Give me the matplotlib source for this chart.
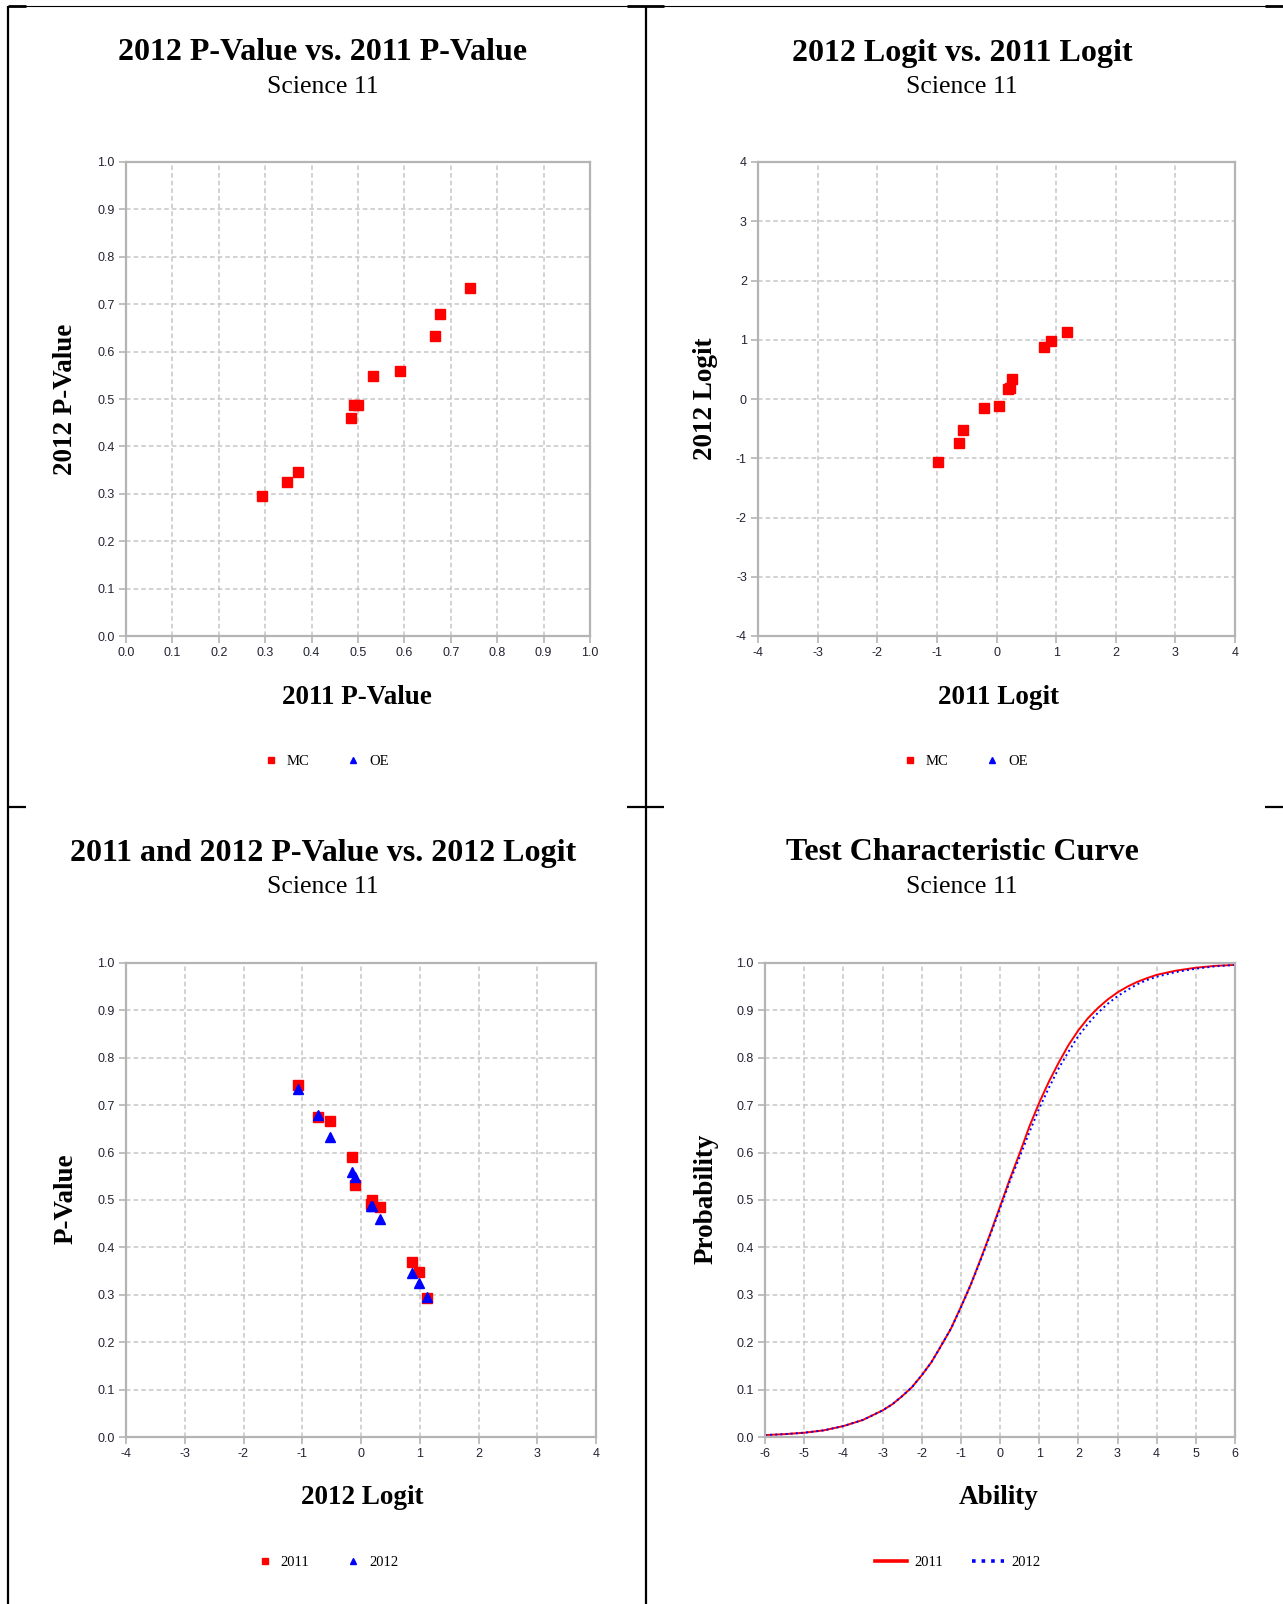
import matplotlib
matplotlib.use('Agg')
import matplotlib.pyplot as plt
from matplotlib.lines import Line2D

W, H = 1283, 1604

# item statistics (11 items, all MC)
p_2011 = [0.293, 0.348, 0.370, 0.485, 0.492, 0.500, 0.532, 0.590, 0.667, 0.676, 0.742]
p_2012 = [0.296, 0.324, 0.347, 0.459, 0.488, 0.488, 0.548, 0.560, 0.633, 0.680, 0.735]
logit_2011 = [1.19, 0.91, 0.80, 0.26, 0.19, 0.22, 0.05, -0.21, -0.57, -0.63, -0.98]
logit_2012 = [1.13, 0.98, 0.87, 0.33, 0.17, 0.18, -0.11, -0.16, -0.53, -0.74, -1.07]
oe_x = []
oe_y = []

# test characteristic curve
ability = [-6, -5.5, -5, -4.5, -4, -3.5, -3, -2.75, -2.5, -2.25, -2, -1.75, -1.5,
           -1.25, -1, -0.75, -0.5, -0.25, 0, 0.25, 0.5, 0.75, 1, 1.25, 1.5, 1.75,
           2, 2.25, 2.5, 2.75, 3, 3.25, 3.5, 3.75, 4, 4.5, 5, 5.5, 6]
tcc_2011 = [0.004, 0.006, 0.009, 0.014, 0.023, 0.036, 0.056, 0.069, 0.086, 0.105,
            0.130, 0.158, 0.193, 0.229, 0.274, 0.321, 0.374, 0.429, 0.486, 0.544,
            0.598, 0.655, 0.705, 0.750, 0.790, 0.827, 0.858, 0.884, 0.905, 0.923,
            0.938, 0.950, 0.960, 0.968, 0.975, 0.984, 0.990, 0.994, 0.996]
tcc_2012 = [0.004, 0.006, 0.009, 0.014, 0.023, 0.036, 0.056, 0.069, 0.086, 0.105,
            0.130, 0.158, 0.193, 0.229, 0.273, 0.320, 0.372, 0.426, 0.482, 0.539,
            0.590, 0.643, 0.693, 0.737, 0.778, 0.813, 0.846, 0.872, 0.895, 0.914,
            0.930, 0.943, 0.955, 0.964, 0.971, 0.981, 0.988, 0.993, 0.996]

p_ticks = [0.0, 0.1, 0.2, 0.3, 0.4, 0.5, 0.6, 0.7, 0.8, 0.9, 1.0]
p_labels = ['0.0', '0.1', '0.2', '0.3', '0.4', '0.5', '0.6', '0.7', '0.8', '0.9', '1.0']
logit_ticks = [-4, -3, -2, -1, 0, 1, 2, 3, 4]
ability_ticks = [-6, -5, -4, -3, -2, -1, 0, 1, 2, 3, 4, 5, 6]

RED = '#ff0000'
BLUE = '#0000ff'

plt.rcParams['font.family'] = ['Liberation Serif', 'DejaVu Serif']

fig = plt.figure(figsize=(W / 100, H / 100), dpi=100)


def fx(x):
    return x / W


def fy(y):
    return 1 - y / H


def make_axes(l, t, r, b, xticks, yticks, xlabels=None, ylabels=None):
    ax = fig.add_axes([fx(l), fy(b), (r - l) / W, (b - t) / H])
    for s in ax.spines.values():
        s.set_color('#b4b4b4')
        s.set_linewidth(1.6)
    ax.grid(True, color='#c6c6c6', linestyle=(0, (3, 2)), linewidth=1.1)
    ax.set_axisbelow(True)
    ax.tick_params(direction='out', length=5, width=1.2, color='#b4b4b4', pad=3)
    ax.set_xlim(xticks[0], xticks[-1])
    ax.set_ylim(yticks[0], yticks[-1])
    ax.set_xticks(xticks)
    ax.set_yticks(yticks)
    if xlabels is None:
        xlabels = [str(v) for v in xticks]
    if ylabels is None:
        ylabels = [str(v) for v in yticks]
    ax.set_xticklabels(xlabels, fontfamily='Liberation Sans', fontsize=9, color='#222233')
    ax.set_yticklabels(ylabels, fontfamily='Liberation Sans', fontsize=9, color='#222233')
    return ax


def panel_text(cx, title, sub, ty, xl, xlx, xly, yl, ylx, yly):
    fig.text(fx(cx), fy(ty), title, ha='center', va='center', fontsize=23, fontweight='bold')
    fig.text(fx(cx), fy(ty + 34), sub, ha='center', va='center', fontsize=18.5)
    fig.text(fx(xlx), fy(xly), xl, ha='center', va='center', fontsize=19.5, fontweight='bold')
    fig.text(fx(ylx), fy(yly), yl, ha='center', va='center', fontsize=19.5, fontweight='bold',
             rotation=90)


def put_legend(ax, handles, labels, cx, cy, hl=1.0):
    ax.legend(handles, labels, loc='center', bbox_to_anchor=(fx(cx), fy(cy)),
              bbox_transform=fig.transFigure, ncol=2, frameon=False, fontsize=10.5,
              handlelength=hl, handletextpad=0.6, columnspacing=2.5, markerscale=0.7)


# top left: 2012 p-value vs 2011 p-value
ax1 = make_axes(126, 162, 590, 636, p_ticks, p_ticks, p_labels, p_labels)
m1, = ax1.plot(p_2011, p_2012, 's', color=RED, markersize=7, linestyle='none')
o1, = ax1.plot(oe_x, oe_y, '^', color=BLUE, markersize=7, linestyle='none')
panel_text(323, '2012 P-Value vs. 2011 P-Value', 'Science 11', 53,
           '2011 P-Value', 357, 697, '2012 P-Value', 66, 399)
put_legend(ax1, [m1, o1], ['MC', 'OE'], 326, 761)

# top right: 2012 logit vs 2011 logit
ax2 = make_axes(758, 162, 1235, 636, logit_ticks, logit_ticks)
m2, = ax2.plot(logit_2011, logit_2012, 's', color=RED, markersize=7, linestyle='none')
o2, = ax2.plot(oe_x, oe_y, '^', color=BLUE, markersize=7, linestyle='none')
panel_text(962, '2012 Logit vs. 2011 Logit', 'Science 11', 53,
           '2011 Logit', 999, 697, '2012 Logit', 706, 399)
put_legend(ax2, [m2, o2], ['MC', 'OE'], 965, 761)

# bottom left: p-values vs 2012 logit
ax3 = make_axes(126, 963, 596, 1437, logit_ticks, p_ticks, None, p_labels)
s11, = ax3.plot(logit_2012, p_2011, 's', color=RED, markersize=7, linestyle='none')
s12, = ax3.plot(logit_2012, p_2012, '^', color=BLUE, markersize=7, linestyle='none')
panel_text(323, '2011 and 2012 P-Value vs. 2012 Logit', 'Science 11', 853,
           '2012 Logit', 362, 1498, 'P-Value', 66, 1199)
put_legend(ax3, [s11, s12], ['2011', '2012'], 328, 1562)

# bottom right: test characteristic curve
ax4 = make_axes(765, 963, 1235, 1437, ability_ticks, p_ticks, None, p_labels)
c11, = ax4.plot(ability, tcc_2011, '-', color=RED, linewidth=1.4)
c12, = ax4.plot(ability, tcc_2012, ':', color=BLUE, linewidth=1.4)
panel_text(962, 'Test Characteristic Curve', 'Science 11', 853,
           'Ability', 999, 1498, 'Probability', 706, 1199)
ax4.legend([Line2D([], [], color=RED, lw=2.6), Line2D([], [], color=BLUE, lw=2.6, ls=':')],
           ['2011', '2012'], loc='center', bbox_to_anchor=(fx(958), fy(1562)),
           bbox_transform=fig.transFigure, ncol=2, frameon=False, fontsize=10.5,
           handlelength=2.2, handletextpad=0.5, columnspacing=2.0)

# table borders of the page the charts sit in
def seg(x0, y0, x1, y1, lw):
    fig.add_artist(Line2D([fx(x0), fx(x1)], [fy(y0), fy(y1)], transform=fig.transFigure,
                          color='black', linewidth=lw, solid_capstyle='butt'))


seg(8, 6, 1283, 6, 0.8)
for a, b in [(8, 26), (627, 664), (1265, 1283)]:
    seg(a, 6, b, 6, 2.0)
    seg(a, 807, b, 807, 1.6)
seg(8, 6, 8, 1604, 1.6)
seg(646, 6, 646, 1604, 1.6)

fig.savefig('out.png', dpi=100)
